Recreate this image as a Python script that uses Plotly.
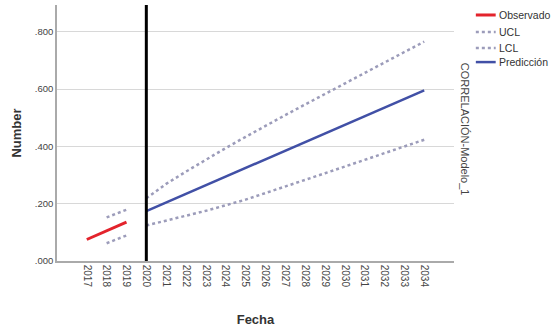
import plotly.graph_objects as go

# ---- data ----
obs_years = [2017, 2018, 2019]
observado = [0.075, 0.105, 0.136]

obs_ci_years = [2018, 2019]
ucl_obs = [0.152, 0.179]
lcl_obs = [0.062, 0.089]

pred_years = list(range(2020, 2035))
prediccion = [0.174, 0.204, 0.234, 0.264, 0.294, 0.324, 0.355, 0.385,
              0.415, 0.445, 0.475, 0.505, 0.535, 0.565, 0.595]
ucl_pred = [0.219, 0.269, 0.312, 0.354, 0.394, 0.433, 0.472, 0.509,
            0.546, 0.583, 0.620, 0.657, 0.693, 0.729, 0.765]
lcl_pred = [0.124, 0.140, 0.158, 0.175, 0.194, 0.214, 0.237, 0.259,
            0.283, 0.306, 0.329, 0.352, 0.376, 0.400, 0.423]

tick_years = list(range(2017, 2035))
y_ticks = [0.0, 0.2, 0.4, 0.6, 0.8]
y_tick_labels = [".000", ".200", ".400", ".600", ".800"]
forecast_start = 2020
legend_names = ["Observado", "UCL", "LCL", "Predicción"]

RED = "#e3232c"
BLUE = "#4150a6"
CI = "#9c9cba"
legend_styles = [dict(color=RED, width=3), dict(color=CI, width=2.5, dash="dot"),
                 dict(color=CI, width=2.5, dash="dot"), dict(color=BLUE, width=2.5)]

fig = go.Figure()
fig.add_trace(go.Scatter(x=obs_years, y=observado, mode="lines", name="Observado",
                         line=legend_styles[0]))
fig.add_trace(go.Scatter(x=obs_ci_years, y=ucl_obs, mode="lines", name="UCL",
                         line=legend_styles[1]))
fig.add_trace(go.Scatter(x=pred_years, y=ucl_pred, mode="lines", name="UCL",
                         line=legend_styles[1]))
fig.add_trace(go.Scatter(x=obs_ci_years, y=lcl_obs, mode="lines", name="LCL",
                         line=legend_styles[2]))
fig.add_trace(go.Scatter(x=pred_years, y=lcl_pred, mode="lines", name="LCL",
                         line=legend_styles[2]))
fig.add_trace(go.Scatter(x=pred_years, y=prediccion, mode="lines", name="Predicción",
                         line=legend_styles[3]))

fig.add_shape(type="line", xref="x", yref="paper", x0=forecast_start, x1=forecast_start,
              y0=0, y1=1, line=dict(color="black", width=3))

# custom compact legend (outside plot, right side)
legend_rows_y = [0.961, 0.895, 0.832, 0.777]
for name, style, yy in zip(legend_names, legend_styles, legend_rows_y):
    fig.add_shape(type="line", xref="paper", yref="paper", x0=1.055, x1=1.105,
                  y0=yy, y1=yy, line=style)
    fig.add_annotation(text=name, xref="paper", yref="paper", x=1.105, y=yy,
                       xanchor="left", yanchor="middle", showarrow=False,
                       xshift=1, font=dict(size=10.5, color="#333"))

fig.add_annotation(text="CORRELACIÓN-Modelo_1", xref="paper", yref="paper",
                   x=1.028, y=0.516, textangle=90, showarrow=False,
                   font=dict(size=11, color="#444"), xanchor="center", yanchor="middle")

fig.update_layout(
    width=554, height=335,
    margin=dict(l=57, r=100, t=5, b=74, autoexpand=False),
    paper_bgcolor="white", plot_bgcolor="white",
    font=dict(family="Liberation Sans, Arial, sans-serif", color="#333"),
    showlegend=False,
)
fig.update_xaxes(range=[2015.5, 2035.5], tickvals=tick_years, automargin=False,
                 ticktext=[str(y) for y in tick_years], tickangle=90,
                 tickfont=dict(size=10, color="#444"), showgrid=False, zeroline=False,
                 showline=True, linecolor="#aaaaaa", linewidth=1.5,
                 title=dict(text="<b>Fecha</b>", font=dict(size=13, color="#333"), standoff=28))
fig.update_yaxes(range=[0, 0.893], tickvals=y_ticks, ticktext=y_tick_labels, automargin=False,
                 tickfont=dict(size=9.5, color="#444"), showgrid=True, gridcolor="#d8d8d8",
                 gridwidth=1, zeroline=False, showline=True, linecolor="#aaaaaa", linewidth=1.5,
                 title=dict(text="<b>Number</b>", font=dict(size=13, color="#333"), standoff=10))

fig.write_html("out.html", config={"displayModeBar": False},
               post_script="document.body.style.margin='0';")
